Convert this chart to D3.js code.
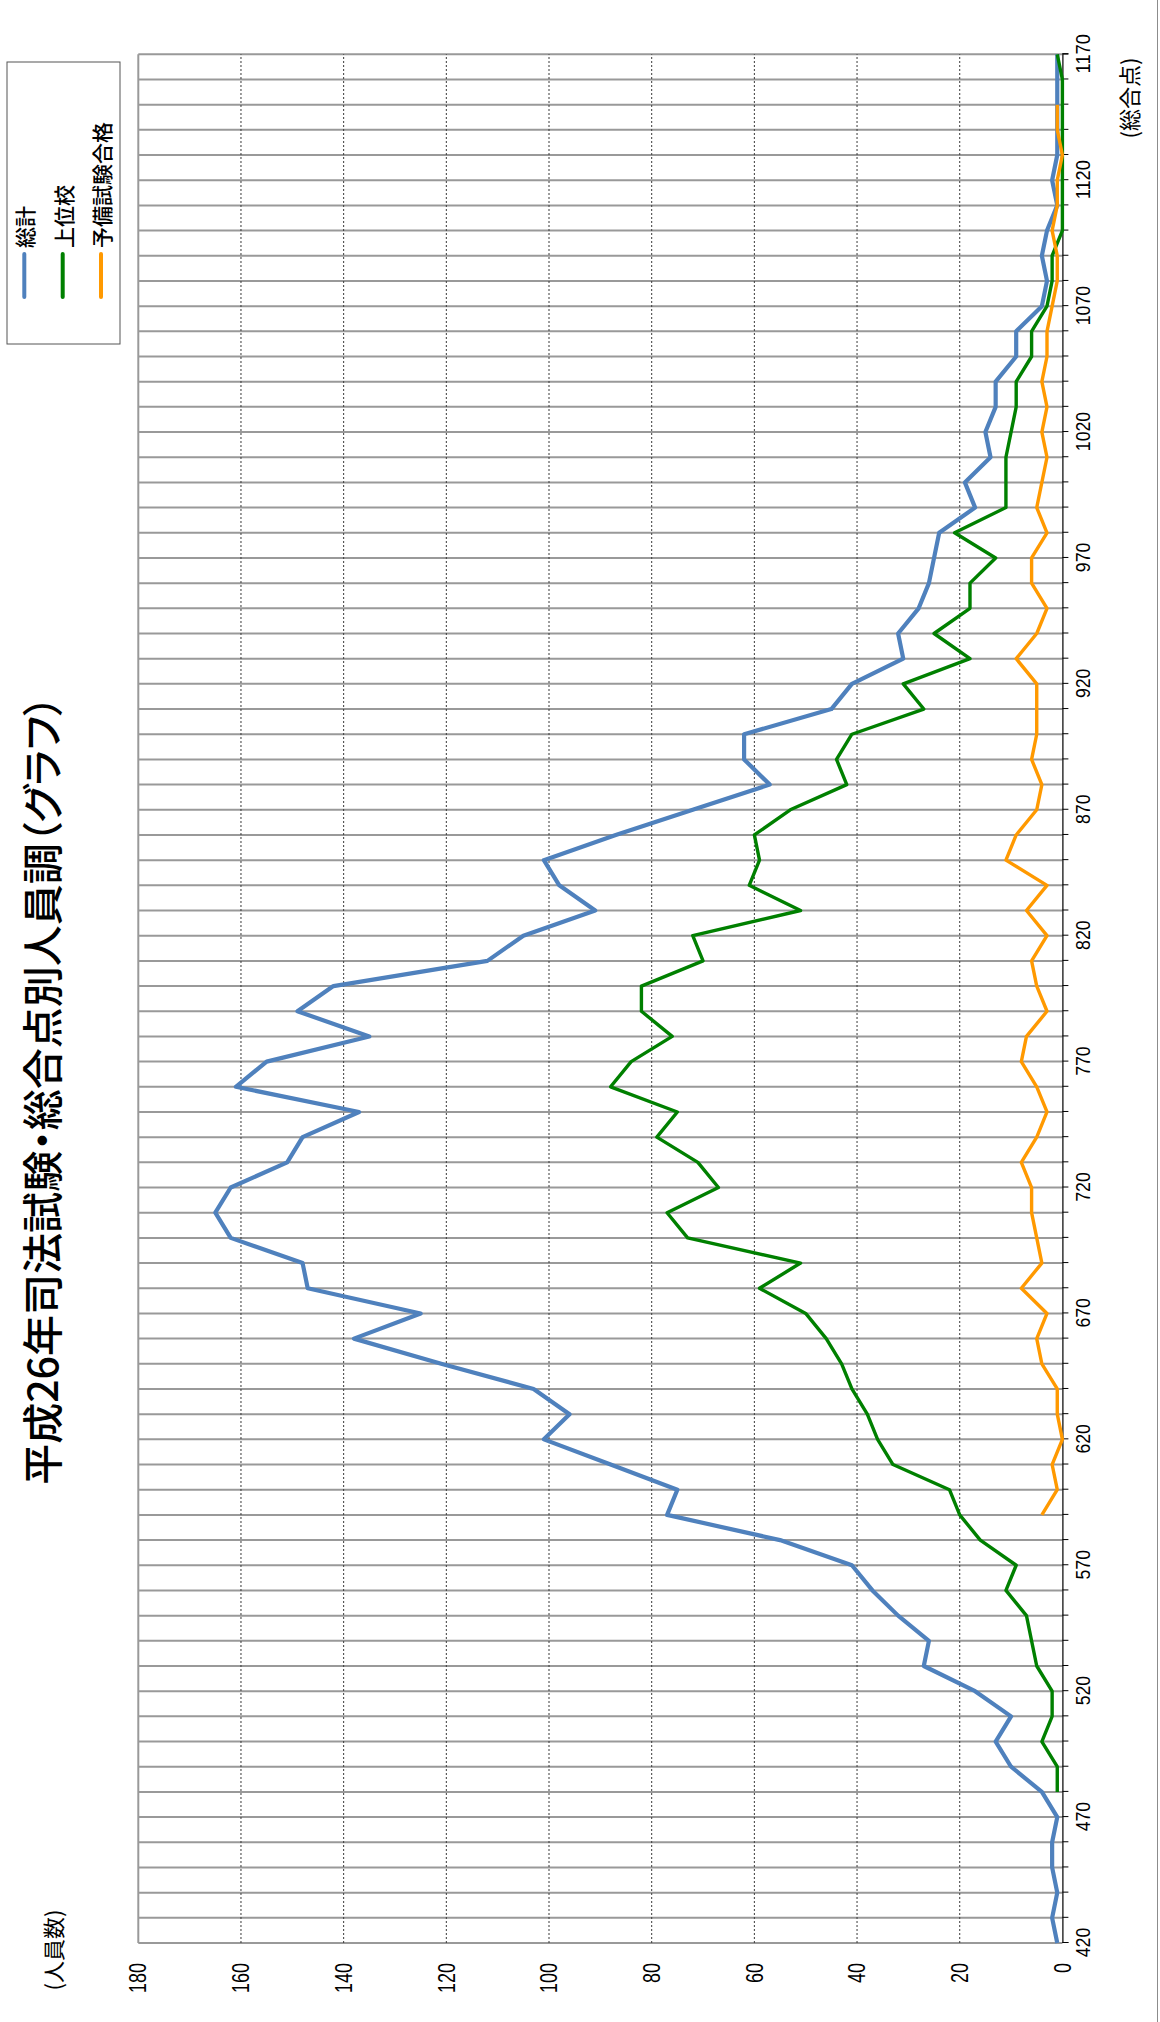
<!DOCTYPE html>
<html>
<head>
<meta charset="utf-8">
<script src="https://cdn.jsdelivr.net/npm/d3@7"></script>
<style>
html,body{margin:0;padding:0;background:#fff;}
svg{display:block;}
</style>
</head>
<body>
<svg id="chart" width="1160" height="2022"></svg>
<script>
// ---- data ----
const scores = [420,430,440,450,460,470,480,490,500,510,520,530,540,550,560,570,580,590,600,610,620,630,640,650,660,670,680,690,700,710,720,730,740,750,760,770,780,790,800,810,820,830,840,850,860,870,880,890,900,910,920,930,940,950,960,970,980,990,1000,1010,1020,1030,1040,1050,1060,1070,1080,1090,1100,1110,1120,1130,1140,1150,1160,1170];
const total = [1,2,1,2,2,1,4,10,13,10,17,27,26,32,37,41,55,77,75,88,101,96,103,121,138,125,147,148,162,165,162,151,148,137,161,155,135,149,142,112,105,91,98,101,87,72,57,62,62,45,41,31,32,28,26,25,24,17,19,14,15,13,13,9,9,4,3,4,3,1,2,1,1,1,1,1];
const topSchools = [null,null,null,null,null,null,1,1,4,2,2,5,6,7,11,9,16,20,22,33,36,38,41,43,46,50,59,51,73,77,67,71,79,75,88,84,76,82,82,70,72,51,61,59,60,53,42,44,41,27,31,18,25,18,18,13,21,11,11,11,10,9,9,6,6,3,2,2,0,0,0,0,0,0,0,1];
const prelim = [null,null,null,null,null,null,null,null,null,null,null,null,null,null,null,null,null,4,1,2,0,1,1,4,5,3,8,4,5,6,6,8,5,3,5,8,7,3,5,6,3,7,3,11,9,5,4,6,5,5,5,9,5,3,6,6,3,5,4,3,4,3,4,3,3,2,1,1,2,1,1,0,1,1,null,null];
const seriesNames = ["総計","上位校","予備試験合格"];
const seriesColors = ["#4F81BD","#008000","#FF9900"];
const xTickLabels = [420,470,520,570,620,670,720,770,820,870,920,970,1020,1070,1120,1170];
const yTicks = [0,20,40,60,80,100,120,140,160,180];
const titleText = "平成26年司法試験・総合点別人員調（グラフ）";
const xAxisTitle = "(総合点)";
const yAxisTitle = "(人員数)";

// ---- layout (landscape, then rotated -90deg) ----
const W = 2022, H = 1160;
const plot = {left: 79, right: 1967.7, top: 138.3, bottom: 1062.4};
const jp = "'Noto Sans CJK JP', sans-serif";
const num = "'Liberation Sans', Arial, sans-serif";

const svg = d3.select("#chart");
const g = svg.append("g").attr("transform", `translate(0,${W}) rotate(-90)`);

const x = d3.scaleLinear().domain([420,1170]).range([plot.left, plot.right]);
const y = d3.scaleLinear().domain([0,180]).range([plot.bottom, plot.top]);

// outer frame edge
g.append("line").attr("x1",0).attr("x2",W).attr("y1",1157.5).attr("y2",1157.5)
  .attr("stroke","#8c8c8c").attr("stroke-width",1);

// vertical (score) grid lines
g.append("g").selectAll("line").data(scores).join("line")
  .attr("x1", d => x(d)).attr("x2", d => x(d))
  .attr("y1", plot.top).attr("y2", plot.bottom)
  .attr("stroke", "#999").attr("stroke-width", 2);

// horizontal (count) grid lines, dashed
g.append("g").selectAll("line").data(yTicks.filter(d => d > 0 && d < 180)).join("line")
  .attr("x1", plot.left).attr("x2", plot.right)
  .attr("y1", d => y(d)).attr("y2", d => y(d))
  .attr("stroke", "#3a3a3a").attr("stroke-width", 1).attr("stroke-dasharray", "2,2");
// top border (180)
g.append("line").attr("x1", plot.left).attr("x2", plot.right)
  .attr("y1", y(180)).attr("y2", y(180)).attr("stroke","#999").attr("stroke-width",2);

// x axis
const xAxis = d3.axisBottom(x).tickValues(scores).tickSize(6)
  .tickFormat(d => xTickLabels.includes(d) ? d : "");
const xg = g.append("g").attr("transform", `translate(0,${plot.bottom})`).call(xAxis);
xg.select(".domain").attr("stroke","#000").attr("stroke-width",1.2);
xg.selectAll(".tick line").attr("stroke","#000");
xg.selectAll(".tick text").attr("font-family", num)
  .attr("font-size", 20).attr("fill","#000").attr("dy", "0.95em")
  .each(function(d){
    const s = String(xTickLabels.includes(d) ? d : "");
    if (s.length) d3.select(this).attr("textLength", s.length * 9.8).attr("lengthAdjust","spacingAndGlyphs");
  });

// y axis
const yAxis = d3.axisLeft(y).tickValues(yTicks).tickSize(0).tickPadding(20);
const yg = g.append("g").attr("transform", `translate(${plot.left},0)`).call(yAxis);
yg.select(".domain").remove();
yg.selectAll(".tick text").attr("font-family", num)
  .attr("font-size", 24).attr("fill","#000")
  .each(function(d){
    d3.select(this).attr("textLength", String(d).length * 10).attr("lengthAdjust","spacingAndGlyphs");
  });

// lines
const allSeries = [total, topSchools, prelim];
const widths = [4.2, 3.4, 3.4];
const line = d3.line().defined(d => d.v !== null).x(d => x(d.s)).y(d => y(d.v));
allSeries.forEach((vals, i) => {
  const pts = scores.map((s, k) => ({s: s, v: vals[k]}));
  g.append("path").datum(pts)
    .attr("d", line).attr("fill","none")
    .attr("stroke", seriesColors[i]).attr("stroke-width", widths[i])
    .attr("stroke-linejoin","round");
});

// title
const title = g.append("text").attr("x", 932).attr("y", 58).attr("text-anchor","middle")
  .attr("font-family", jp).attr("font-size", 40).attr("font-weight", 500)
  .style("font-feature-settings", "'palt'")
  .attr("fill","#000").text(titleText);
const tl = title.node().getComputedTextLength();
if (tl > 0) title.attr("font-size", 40 * 790 / tl);

// axis titles
g.append("text").attr("x", 72).attr("y", 52).attr("text-anchor","middle")
  .attr("dominant-baseline","central")
  .attr("font-family", jp).attr("font-size", 22)
  .attr("fill","#000").text(yAxisTitle);
g.append("text").attr("x", 1924).attr("y", 1128).attr("text-anchor","middle")
  .attr("dominant-baseline","central")
  .attr("font-family", jp).attr("font-size", 22)
  .attr("fill","#000").text(xAxisTitle);

// legend
const lg = g.append("g");
lg.append("rect").attr("x", 1678).attr("y", 7).attr("width", 282).attr("height", 113)
  .attr("fill","#fff").attr("stroke","#555").attr("stroke-width",1);
const rowsY = [24.3, 62.7, 101];
seriesNames.forEach((name, i) => {
  lg.append("line").attr("x1", 1725).attr("x2", 1768).attr("y1", rowsY[i]).attr("y2", rowsY[i])
    .attr("stroke", seriesColors[i]).attr("stroke-width", 4).attr("stroke-linecap","round");
  lg.append("text").attr("x", 1774).attr("y", rowsY[i]).attr("dominant-baseline","central")
    .attr("font-family", jp).attr("font-size", 21).attr("font-weight", 500)
    .attr("fill","#000").text(name);
});
</script>
</body>
</html>
